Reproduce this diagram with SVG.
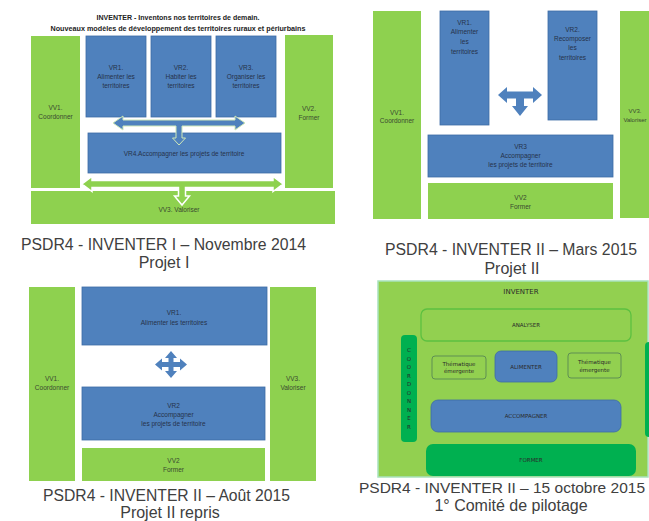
<svg xmlns="http://www.w3.org/2000/svg" width="649" height="521" viewBox="0 0 649 521">
<style>
.bg{fill:#ffffff}
.g{fill:#8ED14F}
.b{fill:#4F81BD;stroke:#3D6CA5;stroke-width:0.8}
.dg{fill:#00B050}
.t{font-family:"Liberation Sans",Arial,sans-serif;font-size:6.5px;fill:#26324a;text-anchor:middle;dominant-baseline:central}
.tg{font-family:"Liberation Sans",Arial,sans-serif;font-size:6.5px;fill:#3a4a30;text-anchor:middle;dominant-baseline:central}
.q{font-family:"DejaVu Sans",sans-serif;font-size:5.5px;fill:#2a2a2a;text-anchor:middle;dominant-baseline:central}
.cap{font-family:"Liberation Sans",Arial,sans-serif;font-size:16px;fill:#404040;text-anchor:middle}
.ttl{font-family:"Liberation Sans",Arial,sans-serif;font-size:7px;font-weight:bold;fill:#222;text-anchor:middle}
</style>
<rect class="bg" x="0" y="0" width="649" height="521"/>

<!-- Quadrant 1 -->
<g id="q1-title">
<text class="ttl" x="178" y="20" textLength="163" lengthAdjust="spacingAndGlyphs">INVENTER - Inventons nos territoires de demain.</text>
<text class="ttl" x="178" y="31" textLength="255" lengthAdjust="spacingAndGlyphs">Nouveaux modèles de développement des territoires ruraux et périurbains</text>
</g>
<g id="q1-vv1"><rect class="g" x="31" y="36" width="49" height="152"/><text class="tg" x="55.5" y="107">VV1.</text><text class="tg" x="55.5" y="116">Coordonner</text></g>
<g id="q1-vv2"><rect class="g" x="285" y="35" width="48" height="153"/><text class="tg" x="309" y="108">VV2.</text><text class="tg" x="309" y="117">Former</text></g>
<g id="q1-vv3"><rect class="g" x="31" y="191" width="304" height="33"/><text class="tg" x="179" y="209">VV3. Valoriser</text></g>
<g id="q1-vr1"><rect class="b" x="86" y="36" width="60" height="81"/><text class="t" x="116" y="67">VR1.</text><text class="t" x="116" y="76">Alimenter les</text><text class="t" x="116" y="85">territoires</text></g>
<g id="q1-vr2"><rect class="b" x="151" y="36" width="60" height="81"/><text class="t" x="181" y="67">VR2.</text><text class="t" x="181" y="76">Habiter les</text><text class="t" x="181" y="85">territoires</text></g>
<g id="q1-vr3"><rect class="b" x="216" y="36" width="60" height="81"/><text class="t" x="246" y="67">VR3.</text><text class="t" x="246" y="76">Organiser les</text><text class="t" x="246" y="85">territoires</text></g>
<g id="q1-vr4"><rect class="b" x="88" y="133" width="193" height="40"/><text class="t" x="184" y="153">VR4.Accompagner les projets de territoire</text></g>
<g id="q1-caption">
<text class="cap" x="163.5" y="250" textLength="285" lengthAdjust="spacingAndGlyphs">PSDR4 - INVENTER I – Novembre 2014</text>
<text class="cap" x="164" y="268">Projet I</text>
</g>

<!-- Quadrant 2 -->
<g id="q2-vv1"><rect class="g" x="373" y="11" width="48" height="208"/><text class="tg" x="397" y="112">VV1.</text><text class="tg" x="397" y="120">Coordonner</text></g>
<g id="q2-vr1"><rect class="b" x="440" y="11" width="49" height="114"/><text class="t" x="464.5" y="22">VR1.</text><text class="t" x="464.5" y="31">Alimenter</text><text class="t" x="464.5" y="41">les</text><text class="t" x="464.5" y="51">territoires</text></g>
<g id="q2-vr2"><rect class="b" x="548" y="11" width="49" height="109"/><text class="t" x="572.5" y="29">VR2.</text><text class="t" x="572.5" y="38">Recomposer</text><text class="t" x="572.5" y="47">les</text><text class="t" x="572.5" y="57">territoires</text></g>
<g id="q2-vv3"><rect class="g" x="620" y="11" width="48" height="207"/><text class="tg" x="635" y="111" style="font-size:6px">VV3.</text><text class="tg" x="635" y="120" style="font-size:6px">Valoriser</text></g>
<g id="q2-vr3"><rect class="b" x="428" y="135" width="185" height="42"/><text class="t" x="520.5" y="146">VR3</text><text class="t" x="520.5" y="155">Accompagner</text><text class="t" x="520.5" y="164">les projets de territoire</text></g>
<g id="q2-vv2"><rect class="g" x="428" y="183" width="185" height="36"/><text class="tg" x="520.5" y="197">VV2</text><text class="tg" x="520.5" y="206">Former</text></g>
<g id="q2-caption">
<text class="cap" x="511" y="255" textLength="252" lengthAdjust="spacingAndGlyphs">PSDR4 - INVENTER II – Mars 2015</text>
<text class="cap" x="512" y="274">Projet II</text>
</g>

<!-- Quadrant 3 -->
<g id="q3-vv1"><rect class="g" x="29" y="287" width="46" height="194"/><text class="tg" x="52" y="378">VV1.</text><text class="tg" x="52" y="387">Coordonner</text></g>
<g id="q3-vr1"><rect class="b" x="82" y="287" width="185" height="58"/><text class="t" x="174" y="312">VR1.</text><text class="t" x="174" y="322">Alimenter les territoires</text></g>
<g id="q3-vr2"><rect class="b" x="82" y="387" width="183" height="53"/><text class="t" x="173.5" y="405">VR2</text><text class="t" x="173.5" y="414">Accompagner</text><text class="t" x="173.5" y="423">les projets de territoire</text></g>
<g id="q3-vv2"><rect class="g" x="82" y="448" width="183" height="33"/><text class="tg" x="173.5" y="460">VV2</text><text class="tg" x="173.5" y="469">Former</text></g>
<g id="q3-vv3"><rect class="g" x="270" y="287" width="46" height="194"/><text class="tg" x="293" y="378">VV3.</text><text class="tg" x="293" y="387">Valoriser</text></g>
<g id="q3-caption">
<text class="cap" x="166.5" y="501" textLength="247" lengthAdjust="spacingAndGlyphs">PSDR4 - INVENTER II – Août 2015</text>
<text class="cap" x="170" y="518">Projet II repris</text>
</g>

<!-- Quadrant 4 -->
<g id="q4-frame"><rect x="378" y="281" width="270" height="196" fill="#92D050" stroke="#A8E2BC" stroke-width="1.5"/><text class="q" x="521" y="292" style="font-size:7px">INVENTER</text></g>
<g id="q4-analyser"><rect x="421" y="309" width="210" height="32" rx="6" fill="none" stroke="#5CC040" stroke-width="1.3"/><text class="q" x="526" y="325">ANALYSER</text></g>
<g id="q4-coordonner"><rect class="dg" x="401" y="335" width="16" height="107" rx="4"/>
<text class="q" x="409" y="350">C</text><text class="q" x="409" y="358.5">O</text><text class="q" x="409" y="367">O</text><text class="q" x="409" y="375.5">R</text><text class="q" x="409" y="384">D</text><text class="q" x="409" y="392.5">O</text><text class="q" x="409" y="401">N</text><text class="q" x="409" y="409.5">N</text><text class="q" x="409" y="418">E</text><text class="q" x="409" y="426.5">R</text></g>
<g id="q4-them1"><rect x="432" y="356" width="54" height="23" rx="3" fill="none" stroke="#5E8F52" stroke-width="1"/><text class="q" x="459" y="363.5">Thématique</text><text class="q" x="459" y="371">émergente</text></g>
<g id="q4-alimenter"><rect x="495" y="351" width="62" height="31" rx="6" fill="#4F81BD" stroke="#3D6CA5" stroke-width="0.8"/><text class="q" x="526" y="366.5">ALIMENTER</text></g>
<g id="q4-them2"><rect x="568" y="353" width="53" height="25" rx="3" fill="none" stroke="#5E8F52" stroke-width="1"/><text class="q" x="594.5" y="361.5">Thématique</text><text class="q" x="594.5" y="369.5">émergente</text></g>
<g id="q4-valoriser"><rect class="dg" x="645" y="342" width="16" height="95" rx="4"/></g>
<g id="q4-accompagner"><rect x="431" y="400" width="190" height="32" rx="7" fill="#4F81BD" stroke="#3D6CA5" stroke-width="0.8"/><text class="q" x="526" y="416">ACCOMPAGNER</text></g>
<g id="q4-former"><rect class="dg" x="426" y="444" width="210" height="32" rx="7"/><text class="q" x="531" y="460">FORMER</text></g>
<g id="q4-caption">
<text class="cap" x="359" y="493" style="text-anchor:start;font-size:15.5px">PSDR4 - INVENTER II – 15 octobre 2015</text>
<text class="cap" x="511" y="511">1° Comité de pilotage</text>
</g>

<!-- Connectors -->
<g id="connectors">
<polygon points="113,123 123,116 123,120 235,120 235,116 245,123 235,130 235,126 182,126 182,138 185.5,138 179,145 172.5,138 176,138 176,126 123,126 123,130" fill="#4F81BD" stroke="#CFE8B8" stroke-width="1"/>
<polygon points="82,184 92,176.5 92,180.5 273,180.5 273,176.5 283,184 273,191.5 273,187.5 185.5,187.5 185.5,196 189.5,196 182,205 174.5,196 178.5,196 178.5,187.5 92,187.5 92,191.5" fill="#8ED14F" stroke="#ffffff" stroke-width="1.5"/>
<polygon points="498,95 507,87 507,91.5 533,91.5 533,87 542,95 533,103 533,98.5 524,98.5 524,106 528,106 520,116 512,106 516,106 516,98.5 507,98.5 507,103" fill="#4F81BD"/>
<polygon points="155,364.5 162,358.5 162,362 168.5,362 168.5,358 165,358 171,351 177,358 173.5,358 173.5,362 180,362 180,358.5 187,364.5 180,370.5 180,367 173.5,367 173.5,371 177,371 171,378 165,371 168.5,371 168.5,367 162,367 162,370.5" fill="#4F81BD"/>
</g>
</svg>
